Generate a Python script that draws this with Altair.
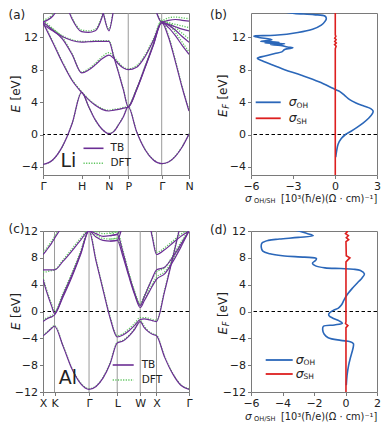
import altair as alt
import pandas as pd

# ------------------------------------------------------------------ data
# (a) Li, bcc path  Γ-H-N-P-Γ-N
li_k = [0, 0.25, 0.5, 0.75, 1.0, 1.177, 1.354, 1.530, 1.707, 1.832, 1.957, 2.082,
        2.207, 2.424, 2.640, 2.857, 3.073, 3.250, 3.427, 3.603, 3.780]
li_ticks = [0, 1.0, 1.707, 2.207, 3.073, 3.780]
li_names = ["Γ", "H", "N", "P", "Γ", "N"]
li_vlines = [2.207, 3.073]
N_ = None
li_tb = {
    "b1": [-3.7, -3.15, -1.5, 1.3, 5.2, 3.5, 1.8, 0.65, 0.1, 0.35, 1.2, 2.2, 3.4, 0.35, -1.85, -3.15, -3.6, -3.4, -2.7, -1.55, 0.05],
    "b2": [13.8, 11.4, 8.9, 6.7, 5.2, 4.3, 3.6, 3.1, 2.9, 3.0, 3.1, 3.25, 3.4, 5.6, 8.3, 11.1, 13.8, 12.0, 9.0, 5.8, 2.9],
    "b3": [13.9, 12.9, 11.8, 9.9, 7.6, 7.95, 8.6, 9.35, 9.8, 9.4, 8.7, 8.2, 8.0, 8.3, 9.6, 11.6, 13.8, 13.2, 12.2, 11.0, 9.9],
    "b4": [13.6, 12.8, 12.1, 11.6, 11.4, 11.45, 11.5, 11.5, 11.5, 9.6, 7.6, 5.5, 3.4, 5.5, 8.2, 11.0, 13.8, 13.5, 12.9, 12.1, 11.4],
    "b5": [N_] * 16 + [13.9, 13.6, 13.3, 13.0, 12.8],
    "b6": [N_, N_, 17.5, 14.3, 12.7, 12.6, 12.8, 14.5, 18.0] + [N_] * 12,
    "b7": [N_] * 6 + [19.0, 15.6, 12.8, 15.5, 19.0] + [N_] * 10,
    "b8": [13.9, 14.6, 16.5] + [N_] * 18,
    "b9": [N_] * 15 + [16.5, 13.9, 14.1, 14.2, 14.1, 14.0],
}
li_dft = {
    "b1": [-3.7, -3.15, -1.5, 1.3, 5.2, 3.5, 1.8, 0.65, 0.15, 0.4, 1.25, 2.25, 3.45, 0.4, -1.8, -3.1, -3.6, -3.4, -2.65, -1.5, 0.1],
    "b2": [13.9, 11.5, 9.0, 6.8, 5.3, 4.4, 3.7, 3.2, 3.0, 3.1, 3.2, 3.35, 3.5, 5.7, 8.4, 11.2, 14.0, 12.2, 9.2, 5.9, 3.0],
    "b3": [14.1, 13.1, 12.0, 10.0, 7.7, 8.1, 8.8, 9.6, 10.1, 9.6, 8.9, 8.3, 8.1, 8.5, 9.8, 11.8, 14.0, 13.6, 12.6, 11.4, 10.2],
    "b4": [13.8, 13.0, 12.2, 11.7, 11.5, 11.5, 11.6, 11.6, 11.6, 9.7, 7.7, 5.6, 3.5, 5.6, 8.3, 11.2, 14.0, 13.8, 13.2, 12.5, 11.8],
    "b5": [N_] * 16 + [14.0, 13.8, 13.6, 13.4, 13.2],
    "b6": [N_, N_, 17.5, 14.4, 12.9, 12.8, 13.0, 14.7, 18.0] + [N_] * 12,
    "b7": [N_] * 6 + [19.0, 15.7, 13.0, 15.6, 19.0] + [N_] * 10,
    "b8": [14.1, 14.8, 16.6] + [N_] * 18,
    "b9": [N_] * 15 + [16.5, 14.1, 14.4, 14.5, 14.4, 14.3],
}

# (c) Al, fcc path X-K-Γ-L-W-X-Γ
al_k = [0, 0.0885, 0.177, 0.2655, 0.354, 0.619, 0.884, 1.150, 1.415, 1.6315, 1.848, 2.0645,
        2.281, 2.4578, 2.6345, 2.8113, 2.988, 3.113, 3.238, 3.363, 3.488, 3.738, 3.988, 4.238, 4.488]
al_ticks = [0, 0.354, 1.415, 2.281, 2.988, 3.488, 4.488]
al_names = ["X", "K", "Γ", "L", "W", "X", "Γ"]
al_vlines = [0.354, 1.415, 2.281, 2.988, 3.488]
al_tb = {
    "a1": [-3.6, -3.3, -2.9, -2.5, -2.2, -5.2, -8.5, -10.7, -11.6, -11.17, -9.9, -7.75, -4.7, -4.4, -3.7, -2.7, -1.5, -2.4, -3.0, -3.4, -3.6, -6.8, -9.3, -11.0, -11.6],
    "a2": [-1.5, -1.2, -0.95, -0.8, -0.5, 2.2, 5.1, 8.4, 12.0, 7.5, 3.2, -1.0, -3.8, -3.5, -2.9, -2.1, -1.2, -1.1, -1.2, -1.35, -1.5, 3.0, 8.0, 13.2, 19.0],
    "a3": [4.8, 3.3, 2.0, 0.8, -0.3, 2.5, 5.4, 8.6, 12.0, 11.1, 10.6, 10.5, 10.6, 8.2, 5.3, 2.6, 0.6, 1.6, 2.7, 3.8, 4.8, 5.6, 7.4, 9.6, 12.0],
    "a4": [6.2, 6.2, 6.2, 6.2, 6.2, 7.5, 9.0, 10.6, 12.0, 11.6, 11.2, 11.3, 11.5, 8.8, 5.6, 2.8, 0.9, 2.2, 3.6, 5.0, 6.2, 6.6, 8.1, 10.0, 12.0],
    "a5": [8.5, 9.0, 9.6, 10.2, 10.9, 13.0, 16.0] + [N_] * 10 + [17.0, 14.0, 11.0, 8.5, 9.2, 10.2, 11.2, 12.0],
    "a6": [N_] * 11 + [10.5, 10.6, 13.0, 16.0] + [N_] * 10,
    "a7": [N_] * 11 + [11.3, 11.5, 13.5, 16.0] + [N_] * 10,
}
al_dft = {
    "a1": [-3.5, -3.2, -2.8, -2.4, -2.1, -5.1, -8.4, -10.6, -11.5, -11.1, -9.8, -7.6, -4.6, -4.3, -3.6, -2.6, -1.3, -2.2, -2.9, -3.3, -3.5, -6.7, -9.2, -10.9, -11.5],
    "a2": [-1.3, -1.0, -0.8, -0.6, -0.3, 2.4, 5.3, 8.6, 12.2, 7.7, 3.4, -0.8, -3.6, -3.3, -2.6, -1.8, -0.9, -0.9, -1.0, -1.2, -1.3, 3.2, 8.2, 13.4, 19.0],
    "a3": [5.1, 3.6, 2.3, 1.1, 0.0, 2.8, 5.7, 8.9, 12.2, 11.4, 10.9, 10.8, 10.9, 8.5, 5.6, 2.9, 0.9, 1.9, 3.0, 4.1, 5.1, 5.9, 7.7, 9.9, 12.2],
    "a4": [5.9, 5.9, 6.0, 6.1, 6.2, 7.7, 9.3, 10.9, 12.2, 11.9, 11.6, 11.7, 11.9, 9.1, 5.9, 3.1, 1.2, 2.4, 3.7, 4.9, 5.9, 6.5, 8.3, 10.3, 12.2],
    "a5": [8.8, 9.3, 9.9, 10.5, 11.2, 13.3, 16.3] + [N_] * 10 + [17.3, 14.3, 11.3, 8.8, 9.5, 10.5, 11.5, 12.2],
    "a6": [N_] * 11 + [10.8, 10.9, 13.3, 16.3] + [N_] * 10,
    "a7": [N_] * 11 + [11.6, 11.9, 13.8, 16.3] + [N_] * 10,
}

# (b) Li conductivities  (E_F in eV, sigma in 10^3 (h/e)(Ohm cm)^-1)
b_oh_E = [-2.8, -2.0, -1.2, -0.5, 0.0, 0.4, 0.9, 1.4, 2.0, 2.6, 2.9, 3.2, 3.5, 3.9, 4.3, 4.8, 5.3, 5.5, 5.7,
          6.5, 7.3, 8.0, 8.6, 9.1, 9.4, 9.7, 10.0, 10.2, 10.5, 10.7, 10.8, 11.0, 11.1, 11.2, 11.3, 11.4,
          11.5, 11.7, 12.0, 12.15, 12.25, 12.6, 13.0, 13.5, 14.0, 14.3, 14.6, 14.8, 14.95, 15.1]
b_oh_s = [0.05, 0.12, 0.22, 0.45, 0.75, 1.15, 1.6, 2.0, 2.4, 2.68, 2.72, 2.55, 2.1, 1.5, 1.05, 0.7, 0.35, 0.1, -0.15,
          -1.15, -2.4, -3.6, -4.5, -5.2, -5.55, -5.0, -4.3, -3.8, -3.6, -3.0, -3.4, -3.9, -4.6, -3.6, -5.0, -4.0,
          -5.3, -4.5, -5.5, -5.8, -4.3, -2.65, -1.6, -0.98, -0.7, -0.62, -0.7, -1.5, -2.9, -3.5]
b_sh_E = [-5.0, 10.6, 10.9, 11.1, 11.3, 11.5, 11.7, 11.9, 12.1, 12.3, 15.0]
b_sh_s = [0.02, 0.02, 0.08, -0.03, 0.09, -0.02, 0.08, -0.02, 0.06, 0.02, 0.02]

# (d) Al conductivities
d_oh_E = [-11.0, -9.5, -8.0, -7.0, -6.0, -5.2, -4.8, -4.5, -4.3, -3.9, -3.4, -2.7, -2.2, -2.0, -1.75, -1.4, -1.0,
          -0.6, -0.3, 0.2, 0.5, 1.0, 1.7, 2.5, 3.5, 4.5, 5.0, 5.6, 6.1, 6.3, 6.4, 6.5, 6.8, 7.2, 7.6, 7.9, 8.1,
          8.3, 8.6, 9.0, 9.6, 10.2, 10.6, 10.8, 11.05, 11.3, 11.6, 12.2]
d_oh_s = [0.05, 0.1, 0.2, 0.3, 0.42, 0.5, 0.5, 0.3, -0.3, -1.1, -1.35, -1.45, -1.4, -0.7, -0.2, -0.4, -0.8,
          -1.05, -1.05, -0.75, -0.45, -0.25, -0.1, 0.1, 0.45, 0.85, 1.05, 1.2, 0.95, 0.5, -0.3, -1.3, -1.9, -2.1,
          -1.9, -1.85, -2.6, -4.0, -4.8, -5.25, -5.35, -5.3, -4.9, -4.2, -3.0, -2.05, -2.4, -3.3]
d_sh_E = [-12.2, -2.4, -2.1, -1.8, -1.5, 7.4, 7.7, 8.0, 8.3, 10.4, 10.7, 11.0, 11.3, 11.6, 11.9, 12.2]
d_sh_s = [0.03, 0.03, 0.15, 0.0, 0.03, 0.03, 0.15, 0.28, 0.05, 0.03, 0.2, 0.05, 0.18, 0.0, 0.12, 0.05]

# ------------------------------------------------------------------ style
PURPLE = "#6b2e94"
GREEN = "#5cc45c"
BLUE = "#2b67b9"
RED = "#dd1f1f"
FRAME = "#7a7a7a"
FONT = "DejaVu Sans"
TICK_FS = 11
TITLE_FS = 12


def one():
    return pd.DataFrame({"d": [0]})


def txt(s, x, y, size=10, angle=0, align="left", baseline="middle", style="normal", color="#222222"):
    kw = dict(text=s, fontSize=size, align=align, baseline=baseline, font=FONT, color=color, fontStyle=style)
    if angle:
        kw["angle"] = angle
    return alt.Chart(one()).mark_text(**kw).encode(x=alt.value(x), y=alt.value(y))


def seg(x1, x2, y, color, dash=None, width=1.5):
    kw = dict(color=color, strokeWidth=width)
    if dash:
        kw["strokeDash"] = dash
    return alt.Chart(one()).mark_rule(**kw).encode(x=alt.value(x1), x2=alt.value(x2), y=alt.value(y))


def label_expr(ticks, names):
    expr = "'" + names[-1] + "'"
    for i in range(len(ticks) - 2, -1, -1):
        mid = (ticks[i] + ticks[i + 1]) / 2
        expr = "datum.value < %.4f ? '%s' : (%s)" % (mid, names[i], expr)
    return expr


def axis_common(**kw):
    return alt.Axis(title=None, grid=False, domain=False, tickSize=3.5, tickColor=FRAME,
                    labelFontSize=TICK_FS, labelFont=FONT, labelColor="#222222", labelPadding=2,
                    labelFlush=False, labelOverlap=False, **kw)


def bands_df(k, bands):
    rows = []
    for name, vals in bands.items():
        for kk, e in zip(k, vals):
            if e is not None:
                rows.append({"k": kk, "E": e, "band": name})
    return pd.DataFrame(rows)


def y_title(x, ybot, sub=None):
    layers = [txt("E", x, ybot, size=TITLE_FS, angle=270, style="italic")]
    y = ybot - 8.2
    if sub:
        layers.append(txt(sub, x + 3, y, size=8.5, angle=270, style="italic"))
        y -= 5.4
    layers.append(txt("[eV]", x, y - 3.8, size=TITLE_FS, angle=270))
    return layers


def band_panel(k, tb, dft, ticks, names, vlines, ydom, yticks, W, H, label, elem, leg):
    xs = alt.Scale(domain=[k[0], k[-1]], nice=False, zero=False)
    ys = alt.Scale(domain=ydom, nice=False, zero=False)
    xa = axis_common(values=ticks, labelExpr=label_expr(ticks, names))
    ya = axis_common(values=yticks)
    X = alt.X("k:Q", scale=xs, axis=xa)
    Y = alt.Y("E:Q", scale=ys, axis=ya)
    vl = alt.Chart(pd.DataFrame({"k": vlines})).mark_rule(color="#9a9a9a", strokeWidth=1).encode(x=X)
    zero = alt.Chart(pd.DataFrame({"E": [0]})).mark_rule(color="black", strokeDash=[3.5, 2.5], strokeWidth=1).encode(y=Y)
    d = alt.Chart(bands_df(k, dft)).mark_line(color=GREEN, strokeDash=[1.2, 1.4], strokeWidth=1.3,
                                              interpolate="monotone", clip=True).encode(x=X, y=Y, detail="band:N")
    t = alt.Chart(bands_df(k, tb)).mark_line(color=PURPLE, strokeWidth=1.2,
                                             interpolate="monotone", clip=True).encode(x=X, y=Y, detail="band:N")
    lx1, lx2, ly1, ly2, tx = leg
    layers = [vl, zero, d, t,
              seg(lx1, lx2, ly1, PURPLE, width=1.6),
              seg(lx1, lx2, ly2, GREEN, dash=[1.2, 1.4], width=1.5),
              txt("TB", tx, ly1, size=10.5),
              txt("DFT", tx, ly2, size=10.5),
              txt(elem[0], elem[1], elem[2], size=19),
              txt(label[0], label[1], label[2], size=12, baseline=label[3])]
    layers += y_title(-27.5, H / 2 + 18.5)
    return alt.layer(*layers).properties(width=W, height=H)


def sigma_panel(oh_E, oh_s, sh_E, sh_s, xdom, xticks, ydom, yticks, W, H, label, leg, xt_y):
    xs = alt.Scale(domain=xdom, nice=False, zero=False)
    ys = alt.Scale(domain=ydom, nice=False, zero=False)
    X = alt.X("s:Q", scale=xs, axis=axis_common(values=xticks))
    Y = alt.Y("E:Q", scale=ys, axis=axis_common(values=yticks))
    oh = pd.DataFrame({"E": oh_E, "s": oh_s, "i": range(len(oh_E))})
    sh = pd.DataFrame({"E": sh_E, "s": sh_s, "i": range(len(sh_E))})
    zero = alt.Chart(pd.DataFrame({"E": [0]})).mark_rule(color="black", strokeDash=[3.5, 2.5], strokeWidth=1).encode(y=Y)
    l_oh = alt.Chart(oh).mark_line(color=BLUE, strokeWidth=1.6, clip=True, interpolate="catmull-rom").encode(
        x=X, y=Y, order="i:Q")
    l_sh = alt.Chart(sh).mark_line(color=RED, strokeWidth=1.6, clip=True).encode(x=X, y=Y, order="i:Q")
    lx1, lx2, ly1, ly2, tx = leg
    layers = [zero, l_oh, l_sh,
              seg(lx1, lx2, ly1, BLUE, width=1.8),
              seg(lx1, lx2, ly2, RED, width=1.8),
              txt("σ", tx, ly1, size=12.5, style="italic"),
              txt("OH", tx + 7.8, ly1 + 3.2, size=7.5),
              txt("σ", tx, ly2, size=12.5, style="italic"),
              txt("SH", tx + 7.8, ly2 + 3.2, size=7.5),
              txt(label[0], label[1], label[2], size=12, baseline=label[3]),
              txt("σ", -6, xt_y, size=10.5, style="italic"),
              txt("OH/SH", 3.0, xt_y + 2.8, size=6.6),
              txt("[10³(ħ/e)(Ω · cm)⁻¹]", 30, xt_y, size=9.8)]
    layers += y_title(-28.3, H / 2 + 23, sub="F")
    return alt.layer(*layers).properties(width=W, height=H)


pa = band_panel(li_k, li_tb, li_dft, li_ticks, li_names, li_vlines, [-5, 15], [-4, 0, 4, 8, 12],
                146, 162, ("(a)", -34.5, -2.7, "top"), ("Li", 17.5, 148), (40.5, 60.5, 135.3, 150.3, 67.5))
pb = sigma_panel(b_oh_E, b_oh_s, b_sh_E, b_sh_s, [-6, 3], [-6, -3, 0, 3], [-5, 15], [-4, 0, 4, 8, 12],
                 126, 162, ("(b)", -41, -2.7, "top"), (4.7, 29.7, 89.3, 105.3, 37.7), 185.5)
pc = band_panel(al_k, al_tb, al_dft, al_ticks, al_names, al_vlines, [-12, 12], [-12, -8, -4, 0, 4, 8, 12],
                146, 161, ("(c)", -34.5, -2.5, "middle"), ("Al", 15.7, 147), (69.7, 90.7, 134, 149, 98.7))
pd_ = sigma_panel(d_oh_E, d_oh_s, d_sh_E, d_sh_s, [-6, 2], [-6, -4, -2, 0, 2], [-12, 12],
                  [-12, -8, -4, 0, 4, 8, 12], 126, 161, ("(d)", -41, -1, "middle"),
                  (14.7, 41.7, 129, 143, 44.7), 185.5)

chart = alt.concat(pa, pb, pc, pd_, columns=2, spacing={"row": 16, "column": 15}).properties(
    padding=0, background="white"
).configure_view(stroke=FRAME, strokeWidth=1)

chart.save("out.html", embed_options={"renderer": "svg", "actions": False})
